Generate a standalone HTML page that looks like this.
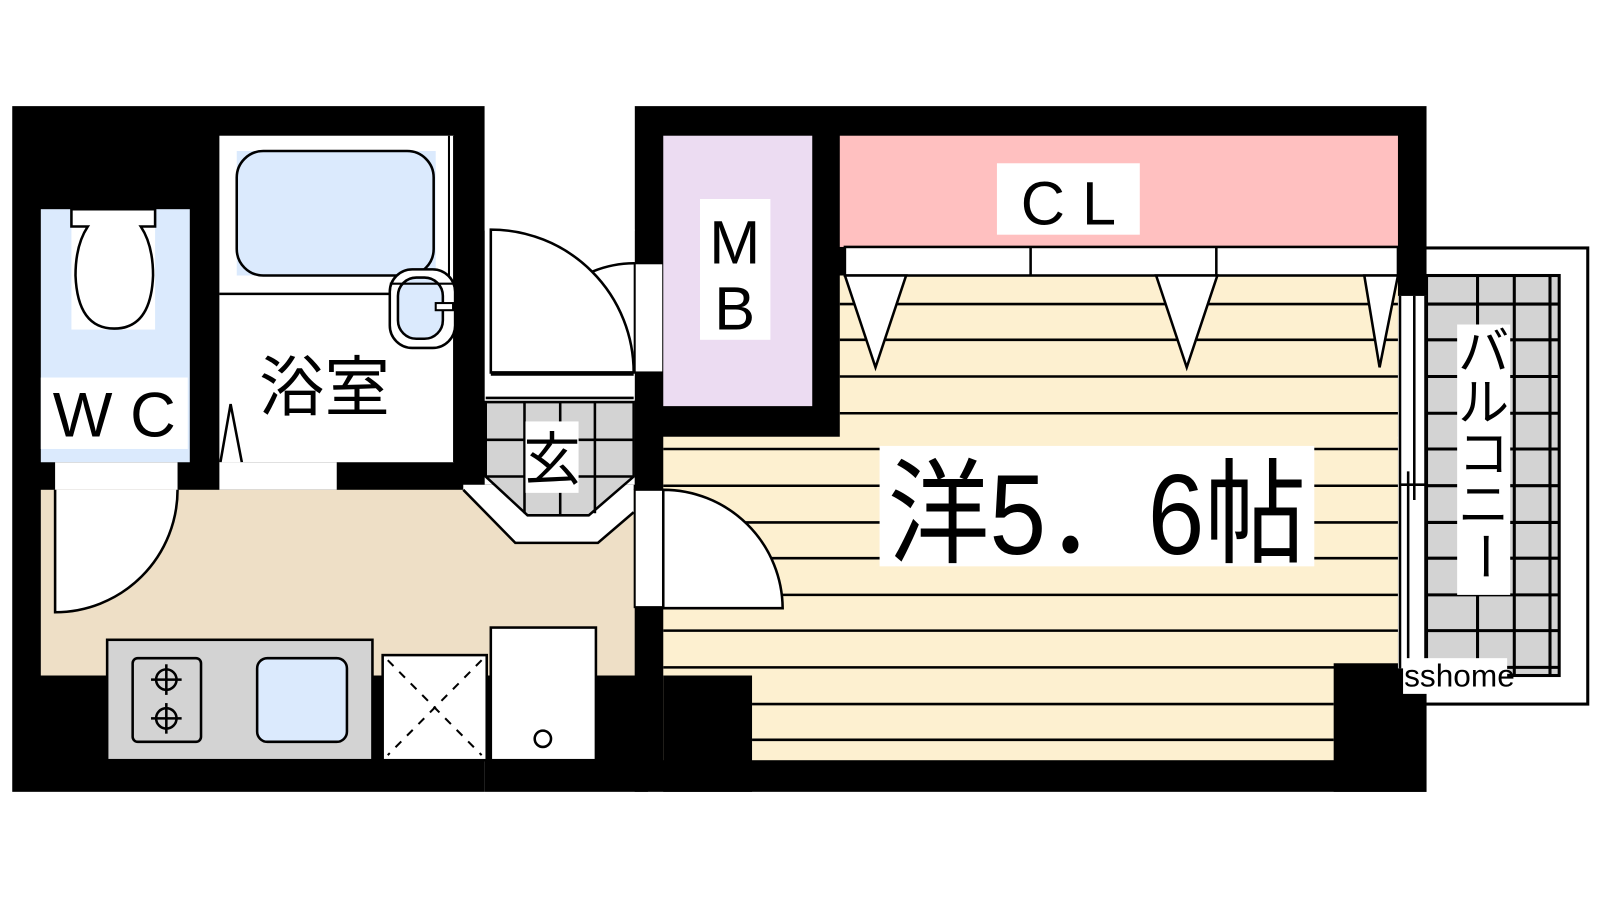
<!DOCTYPE html>
<html><head><meta charset="utf-8"><style>
html,body{margin:0;padding:0;background:#fff;}
svg{display:block;}
text{font-family:"Liberation Sans","Noto Sans CJK JP",sans-serif;}
</style></head><body>
<svg width="1600" height="900" viewBox="0 0 1568 882" preserveAspectRatio="none" xmlns="http://www.w3.org/2000/svg">
<rect width="1568" height="882" fill="#fff"/>
<rect x="1390" y="243" width="166" height="447" fill="#fff" stroke="#000" stroke-width="3"/>
<rect x="1398" y="270" width="130" height="392" fill="#d3d3d3" stroke="#000" stroke-width="3"/>
<g stroke="#000" stroke-width="3">
<line x1="1448" y1="270" x2="1448" y2="662"/><line x1="1484" y1="270" x2="1484" y2="662"/><line x1="1519" y1="270" x2="1519" y2="662"/>
<line x1="1398" y1="298" x2="1528" y2="298"/><line x1="1398" y1="333" x2="1528" y2="333"/><line x1="1398" y1="369" x2="1528" y2="369"/>
<line x1="1398" y1="405" x2="1528" y2="405"/><line x1="1398" y1="440" x2="1528" y2="440"/><line x1="1398" y1="476" x2="1528" y2="476"/>
<line x1="1398" y1="512" x2="1528" y2="512"/><line x1="1398" y1="547" x2="1528" y2="547"/><line x1="1398" y1="583" x2="1528" y2="583"/>
<line x1="1398" y1="618" x2="1528" y2="618"/><line x1="1398" y1="654" x2="1528" y2="654"/>
</g>
<rect x="12" y="104" width="463" height="672" fill="#000"/>
<rect x="475" y="475" width="160" height="301" fill="#000"/>
<rect x="622" y="104" width="776" height="672" fill="#000"/>
<rect x="40" y="205" width="146" height="248" fill="#dbeafd"/>
<rect x="70" y="205" width="82" height="118" fill="#fff"/>
<path d="M70 205 H152 V222 H138 Q150 240 150 270 Q148 322 112 322 Q76 322 74 270 Q74 240 86 222 H70 Z" fill="#fff" stroke="#000" stroke-width="2.5"/>
<rect x="40" y="370" width="144" height="70" fill="#fff"/>
<text x="112" y="428" font-size="62" text-anchor="middle">W C</text>
<rect x="215" y="133" width="230" height="320" fill="#fff"/>
<rect x="232" y="148" width="195" height="122" fill="#dbeafd"/>
<rect x="232" y="148" width="193" height="122" rx="26" fill="none" stroke="#000" stroke-width="2.5"/>
<line x1="215" y1="288" x2="445" y2="288" stroke="#000" stroke-width="2.5"/>
<line x1="440" y1="133" x2="440" y2="275" stroke="#000" stroke-width="2"/>
<line x1="445" y1="133" x2="445" y2="453" stroke="#000" stroke-width="2"/>
<rect x="382" y="264" width="64" height="77" rx="22" fill="#fff" stroke="#000" stroke-width="2.5"/>
<rect x="390" y="272" width="44" height="60" rx="18" fill="#dbeafd" stroke="#000" stroke-width="2.5"/>
<rect x="427" y="297" width="17" height="7" fill="#fff" stroke="#000" stroke-width="2"/>
<line x1="382" y1="278" x2="446" y2="278" stroke="#000" stroke-width="2"/>
<text x="318" y="402" font-size="64" text-anchor="middle">浴室</text>
<path d="M216 453 L226 396 L237 453" fill="#fff" stroke="#000" stroke-width="2.5"/>
<rect x="54" y="453" width="120" height="27" fill="#fff"/>
<rect x="215" y="453" width="115" height="27" fill="#fff"/>
<rect x="40" y="480" width="582" height="182" fill="#eedfc6"/>
<path d="M54 480 V600 A120 120 0 0 0 174 480" fill="#fff" stroke="#000" stroke-width="2.5"/>
<rect x="475" y="104" width="147" height="122" fill="#fff"/>
<rect x="476" y="225" width="146" height="167" fill="#fff"/>
<path d="M481 365 V225 A140 140 0 0 1 621 365 Z" fill="#fff" stroke="#000" stroke-width="2.5"/>
<line x1="481" y1="367" x2="621" y2="367" stroke="#000" stroke-width="2.5"/>
<line x1="476" y1="390" x2="621" y2="390" stroke="#000" stroke-width="2.5"/>
<path d="M454 480 L505 532 H586 L621 502 V475 H454 Z" fill="#fff" stroke="none"/>
<path d="M454 480 L505 532 H586 L621 502" fill="none" stroke="#000" stroke-width="2.5"/>
<polygon points="476,394 621,394 621,467 577,505 517,505 476,467" fill="#d3d3d3" stroke="#000" stroke-width="2.5"/>
<g stroke="#000" stroke-width="2.5">
<line x1="514" y1="394" x2="514" y2="503"/><line x1="549" y1="394" x2="549" y2="505"/><line x1="583" y1="394" x2="583" y2="503"/>
<line x1="476" y1="431" x2="621" y2="431"/><line x1="476" y1="467" x2="621" y2="467"/>
</g>
<rect x="515" y="413" width="52" height="70" fill="#fff"/>
<text x="541" y="470" font-size="56" text-anchor="middle">玄</text>
<rect x="105" y="627" width="260" height="118" fill="#d3d3d3" stroke="#000" stroke-width="2.5"/>
<rect x="130" y="645" width="67" height="82" rx="5" fill="#d3d3d3" stroke="#000" stroke-width="2.5"/>
<g fill="none" stroke="#000" stroke-width="2.5">
<circle cx="163" cy="666" r="10"/><circle cx="163" cy="704" r="10"/>
<line x1="163" y1="651" x2="163" y2="681"/><line x1="148" y1="666" x2="178" y2="666"/>
<line x1="163" y1="689" x2="163" y2="719"/><line x1="148" y1="704" x2="178" y2="704"/>
</g>
<rect x="252" y="645" width="88" height="82" rx="10" fill="#dbeafd" stroke="#000" stroke-width="2.5"/>
<rect x="375" y="642" width="102" height="103" fill="#fff" stroke="#000" stroke-width="2.5"/>
<g stroke="#000" stroke-width="2" stroke-dasharray="8 8"><line x1="380" y1="647" x2="472" y2="740"/><line x1="472" y1="647" x2="380" y2="740"/></g>
<rect x="481" y="615" width="103" height="130" fill="#fff" stroke="#000" stroke-width="2.5"/>
<circle cx="532" cy="724" r="8" fill="#fff" stroke="#000" stroke-width="2.5"/>
<rect x="622" y="258" width="28" height="107" fill="#fff" stroke="#000" stroke-width="2"/>
<path d="M581 266 A107 107 0 0 1 622 258" fill="none" stroke="#000" stroke-width="2.5"/>
<rect x="622" y="480" width="28" height="115" fill="#fff" stroke="#000" stroke-width="2"/>
<rect x="650" y="133" width="146" height="265" fill="#ecdcf2"/>
<rect x="686" y="195" width="69" height="138" fill="#fff"/>
<text x="720" y="258" font-size="60" text-anchor="middle">M</text>
<text x="720" y="323" font-size="60" text-anchor="middle">B</text>
<rect x="823" y="133" width="547" height="109" fill="#ffc0c0"/>
<rect x="977" y="160" width="140" height="70" fill="#fff"/>
<text x="1047" y="220" font-size="60" text-anchor="middle">C L</text>
<rect x="650" y="428" width="720" height="317" fill="#fdf0d0"/>
<rect x="823" y="270" width="547" height="160" fill="#fdf0d0"/>
<rect x="650" y="662" width="87" height="114" fill="#000"/>
<rect x="1307" y="650" width="91" height="126" fill="#000"/>
<g stroke="#000" stroke-width="2.5">
<line x1="823" y1="298" x2="1370" y2="298"/><line x1="823" y1="333" x2="1370" y2="333"/><line x1="823" y1="369" x2="1370" y2="369"/>
<line x1="823" y1="405" x2="1370" y2="405"/><line x1="650" y1="440" x2="1370" y2="440"/><line x1="650" y1="476" x2="1370" y2="476"/>
<line x1="650" y1="512" x2="1370" y2="512"/><line x1="650" y1="547" x2="1370" y2="547"/><line x1="650" y1="583" x2="1370" y2="583"/>
<line x1="650" y1="618" x2="1370" y2="618"/><line x1="650" y1="654" x2="1370" y2="654"/><line x1="737" y1="690" x2="1307" y2="690"/>
<line x1="737" y1="725" x2="1307" y2="725"/>
</g>
<path d="M650 480 A117 117 0 0 1 767 596 H650 Z" fill="#fff" stroke="#000" stroke-width="2.5"/>
<rect x="828" y="242" width="542" height="28" fill="#fff" stroke="#000" stroke-width="2.5"/>
<line x1="1010" y1="242" x2="1010" y2="270" stroke="#000" stroke-width="2.5"/>
<line x1="1192" y1="242" x2="1192" y2="270" stroke="#000" stroke-width="2.5"/>
<g fill="#fff" stroke="#000" stroke-width="2.5">
<polygon points="828,270 888,270 858,360"/>
<polygon points="1133,270 1193,270 1163,360"/>
<polygon points="1337,270 1370,270 1352,360"/>
</g>
<rect x="862" y="437" width="426" height="118" fill="#fff"/>
<text x="1075" y="543" font-size="112" text-anchor="middle" textLength="410" lengthAdjust="spacingAndGlyphs">洋5．6帖</text>
<rect x="1370" y="290" width="28" height="365" fill="#fff"/>
<g stroke="#000" stroke-width="2.5">
<line x1="1372" y1="290" x2="1372" y2="655"/><line x1="1397" y1="290" x2="1397" y2="655"/>
<line x1="1386" y1="290" x2="1386" y2="490"/><line x1="1380" y1="462" x2="1380" y2="655"/>
<line x1="1372" y1="475" x2="1398" y2="475"/>
</g>
<rect x="1428" y="318" width="52" height="265" fill="#fff"/>
<g font-size="50" text-anchor="middle">
<text x="1454" y="362">バ</text><text x="1454" y="412">ル</text><text x="1454" y="462">コ</text><text x="1454" y="512">ニ</text>
<text x="1454" y="562" transform="rotate(90 1454 545)">ー</text>
</g>
<rect x="1375" y="645" width="102" height="35" fill="#fff"/>
<text x="1376" y="673" font-size="31">sshome</text>
</svg>
</body></html>
